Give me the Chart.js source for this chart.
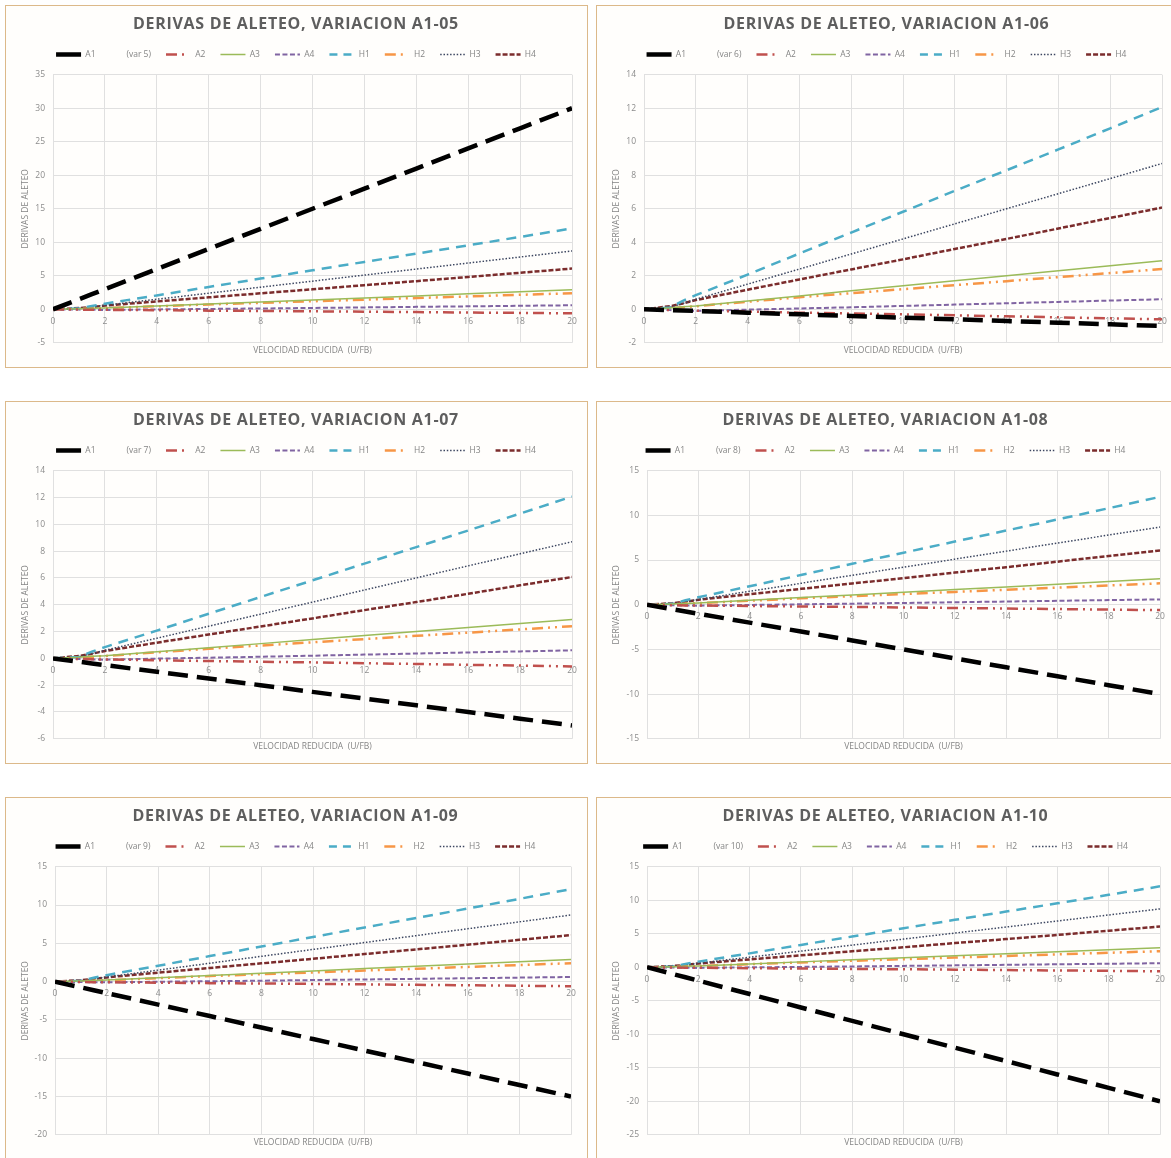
<!DOCTYPE html>
<html>
<head>
<meta charset="utf-8">
<script src="https://cdn.jsdelivr.net/npm/chart.js@4.4.1/dist/chart.umd.min.js"></script>
<style>
  html, body { margin: 0; padding: 0; background: #ffffff; }
  body { width: 1171px; height: 1158px; position: relative; overflow: hidden; }
  .panel {
    position: absolute; width: 581px; height: 361px;
    border: 1px solid #dcb98a; background: #fffefc;
  }
  .panel canvas { display: block; }
</style>
</head>
<body>
<script>
// Reduced velocity (U/FB) sample points shared by every series
const X_VALUES = [0, 1, 1.5, 2, 4, 6, 8, 10, 12, 14, 16, 18, 20];

// Flutter derivatives that stay the same in every variation
const A2 = [0, -0.05, -0.07, -0.08, -0.14, -0.2, -0.25, -0.3, -0.36, -0.42, -0.48, -0.54, -0.6];
const A3 = [0, 0.08, 0.15, 0.2, 0.5, 0.8, 1.1, 1.4, 1.7, 2.0, 2.3, 2.6, 2.9];
const A4 = [0, -0.05, -0.08, -0.1, -0.02, 0.05, 0.12, 0.2, 0.28, 0.36, 0.44, 0.52, 0.6];
const H1 = [0, 0.1, 0.5, 0.84, 2.07, 3.33, 4.58, 5.82, 7.07, 8.3, 9.54, 10.8, 12.07];
const H2 = [0, 0.05, 0.12, 0.18, 0.45, 0.72, 0.96, 1.2, 1.44, 1.68, 1.92, 2.16, 2.4];
const H3 = [0, 0.12, 0.35, 0.6, 1.5, 2.4, 3.3, 4.2, 5.1, 6.0, 6.9, 7.8, 8.7];
const H4 = [0, 0.18, 0.35, 0.55, 1.17, 1.78, 2.38, 2.98, 3.6, 4.2, 4.82, 5.45, 6.07];

// A1 for each variation (var 5 ... var 10)
const A1_VAR5  = [0, 1.5, 2.25, 3, 6, 9, 12, 15, 18, 21, 24, 27, 30];
const A1_VAR6  = [0, -0.05, -0.075, -0.1, -0.2, -0.3, -0.4, -0.5, -0.6, -0.7, -0.8, -0.9, -1];
const A1_VAR7  = [0, -0.25, -0.375, -0.5, -1, -1.5, -2, -2.5, -3, -3.5, -4, -4.5, -5];
const A1_VAR8  = [0, -0.5, -0.75, -1, -2, -3, -4, -5, -6, -7, -8, -9, -10];
const A1_VAR9  = [0, -0.75, -1.125, -1.5, -3, -4.5, -6, -7.5, -9, -10.5, -12, -13.5, -15];
const A1_VAR10 = [0, -1, -1.5, -2, -4, -6, -8, -10, -12, -14, -16, -18, -20];

// Panel titles, variation tags and y-axis ranges
const TITLES = [
  'DERIVAS DE ALETEO, VARIACION A1-05', 'DERIVAS DE ALETEO, VARIACION A1-06',
  'DERIVAS DE ALETEO, VARIACION A1-07', 'DERIVAS DE ALETEO, VARIACION A1-08',
  'DERIVAS DE ALETEO, VARIACION A1-09', 'DERIVAS DE ALETEO, VARIACION A1-10'
];
const VAR_TAGS = ['(var 5)', '(var 6)', '(var 7)', '(var 8)', '(var 9)', '(var 10)'];
const A1_SERIES = [A1_VAR5, A1_VAR6, A1_VAR7, A1_VAR8, A1_VAR9, A1_VAR10];
const Y_MIN  = [-5, -2, -6, -15, -20, -25];
const Y_MAX  = [35, 14, 14, 15, 15, 15];
const Y_STEP = [5, 2, 2, 5, 5, 5];
const X_MIN = 0, X_MAX = 20, X_STEP = 2;

const X_TITLE = 'VELOCIDAD REDUCIDA  (U/FB)';
const Y_TITLE = 'DERIVAS DE ALETEO';

// Line styles for each series
const STYLES = {
  A1: { color: '#000000', width: 4.5, dash: [20, 9], legendDash: [] },
  A2: { color: '#c0504d', width: 2.5, dash: [11, 5, 2, 5, 2, 5], legendDash: [11, 5, 2, 20] },
  A3: { color: '#9bbb59', width: 1.5, dash: [] },
  A4: { color: '#8064a2', width: 2,   dash: [5, 2.5] },
  H1: { color: '#4bacc6', width: 2.5, dash: [10, 7], legendDash: [8, 6] },
  H2: { color: '#f79646', width: 2.5, dash: [11, 5, 2, 5, 2, 5], legendDash: [11, 5, 2, 20] },
  H3: { color: '#3c4660', width: 1.5, dash: [1.5, 1.8] },
  H4: { color: '#7b2c2c', width: 2.5, dash: [5, 2] }
};

// Panel frame placement and plot-area insets
const PANEL_LEFT = [5, 596];
const PANEL_TOP = [5, 401, 797];
const AXIS_LEFT_PAD = 14;
const Y_AXIS_WIDTH = [33, 33, 33, 36, 35, 36];
const RIGHT_PAD = [15, 16, 15, 18, 16, 18];
const FONT = "'Open Sans', 'Liberation Sans', sans-serif";
const TEXT_GREY = '#858585';
const A1_TAG_GAP = ' '.repeat(14);

function series(name, values) {
  const s = STYLES[name];
  return {
    label: name,
    data: X_VALUES.map((x, i) => ({ x: x, y: values[i] })),
    borderColor: s.color,
    backgroundColor: s.color,
    borderWidth: s.width,
    borderDash: s.dash,
    pointRadius: 0,
    tension: 0,
    fill: false
  };
}

// Widens the title lettering and leaves a gap under the legend row
const frameTweaks = {
  id: 'frameTweaks',
  afterInit(chart) {
    const tb = chart.titleBlock;
    if (tb) {
      const drawTitle = tb.draw.bind(tb);
      tb.draw = function () {
        const ctx = this.ctx;
        ctx.save();
        ctx.letterSpacing = '0.7px';
        drawTitle();
        ctx.restore();
      };
    }
    const lg = chart.legend;
    if (lg) {
      const fitLegend = lg.fit.bind(lg);
      lg.fit = function () {
        fitLegend();
        this.height += 6;
      };
    }
  }
};

function makePanel(idx) {
  const div = document.createElement('div');
  div.className = 'panel';
  div.style.left = PANEL_LEFT[idx % 2] + 'px';
  div.style.top = PANEL_TOP[Math.floor(idx / 2)] + 'px';
  const canvas = document.createElement('canvas');
  div.appendChild(canvas);
  document.body.appendChild(div);

  const varTag = VAR_TAGS[idx];
  const datasets = [
    series('A1', A1_SERIES[idx]),
    series('A2', A2), series('A3', A3), series('A4', A4),
    series('H1', H1), series('H2', H2), series('H3', H3), series('H4', H4)
  ];

  new Chart(canvas, {
    type: 'line',
    data: { datasets: datasets },
    plugins: [frameTweaks],
    options: {
      responsive: true,
      maintainAspectRatio: false,
      animation: false,
      events: [],
      layout: { padding: { top: 0, right: RIGHT_PAD[idx], bottom: 11, left: AXIS_LEFT_PAD } },
      plugins: {
        tooltip: { enabled: false },
        title: {
          display: true,
          text: TITLES[idx],
          color: '#5e5e5e',
          font: { family: FONT, size: 16, weight: 'bold' },
          padding: { top: 9, bottom: 1 }
        },
        legend: {
          display: true,
          position: 'top',
          labels: {
            usePointStyle: true,
            pointStyleWidth: 25,
            boxHeight: 8,
            padding: 15,
            color: TEXT_GREY,
            font: { family: FONT, size: 8.5 },
            generateLabels(chart) {
              return chart.data.datasets.map((ds, i) => {
                const st = STYLES[ds.label];
                return {
                  text: i === 0 ? ds.label + A1_TAG_GAP + varTag : ds.label,
                  datasetIndex: i,
                  fillStyle: 'rgba(0,0,0,0)',
                  strokeStyle: ds.borderColor,
                  lineWidth: ds.borderWidth,
                  lineDash: st.legendDash || ds.borderDash,
                  pointStyle: 'line',
                  fontColor: TEXT_GREY,
                  hidden: false
                };
              });
            }
          }
        }
      },
      scales: {
        x: {
          type: 'linear',
          min: X_MIN, max: X_MAX,
          position: { y: 0 },
          ticks: { stepSize: X_STEP, color: '#8c8c8c', font: { family: FONT, size: 8.5 }, padding: 7, maxRotation: 0 },
          grid: { color: '#e0e0e0', lineWidth: 1, drawTicks: false },
          border: { display: false }
        },
        xTitle: {
          type: 'linear',
          axis: 'x',
          position: 'bottom',
          min: X_MIN, max: X_MAX,
          ticks: { display: false },
          grid: { display: false, drawTicks: false },
          border: { display: false },
          title: {
            display: true, text: X_TITLE, color: TEXT_GREY,
            font: { family: FONT, size: 8.5 }, padding: { top: 3, bottom: 0 }
          }
        },
        y: {
          type: 'linear',
          min: Y_MIN[idx], max: Y_MAX[idx],
          afterFit(scale) { scale.width = Y_AXIS_WIDTH[idx]; },
          ticks: { stepSize: Y_STEP[idx], color: '#8c8c8c', font: { family: FONT, size: 8.5 }, padding: 8 },
          grid: { color: '#e0e0e0', lineWidth: 1, drawTicks: false },
          border: { display: false },
          title: {
            display: true, text: Y_TITLE, color: TEXT_GREY,
            font: { family: FONT, size: 8.5 }, padding: { top: 0, bottom: 2 }
          }
        }
      }
    }
  });
}

for (let i = 0; i < 6; i++) makePanel(i);
</script>
</body>
</html>
